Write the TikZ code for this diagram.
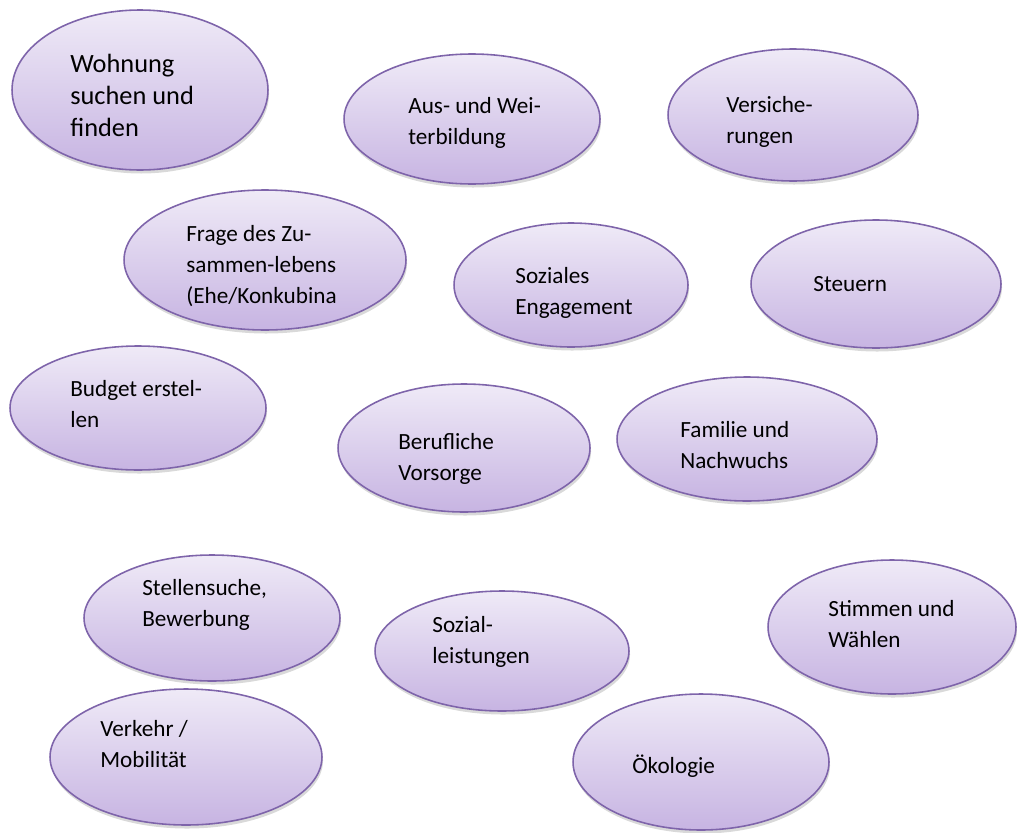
\documentclass[tikz,border=0pt]{standalone}
\usepackage{fontspec}
\setmainfont{Carlito}
\usetikzlibrary{shapes.geometric,shadows}
\definecolor{blobtop}{HTML}{EFEAF7}
\definecolor{blobbot}{HTML}{C7B4E2}
\definecolor{blobline}{HTML}{7E64AA}
\newcommand{\blobfont}{\fontsize{13.2}{17.6}\selectfont}
\newcommand{\bigblobfont}{\fontsize{15}{18.2}\selectfont}

\begin{document}
\begin{tikzpicture}[x=0.02cm, y=-0.02cm,
    blob/.style={ellipse, draw=blobline, line width=0.9pt, inner sep=0pt,
      top color=blobtop, bottom color=blobbot,
      drop shadow={shadow xshift=0.6pt, shadow yshift=-2pt, opacity=0.3}},
    words/.style={anchor=base west, align=left, inner sep=0pt, font=\blobfont}]
  \useasboundingbox (0,0) rectangle (1017,832);

  % the bubbles
  \node[blob, minimum width=5.12cm, minimum height=3.2cm]  (wohnung)  at (140,90) {};
  \node[blob, minimum width=5.12cm, minimum height=2.6cm]  (bildung)  at (472,119) {};
  \node[blob, minimum width=5.0cm,  minimum height=2.64cm] (versich)  at (793,115) {};
  \node[blob, minimum width=5.64cm, minimum height=2.8cm]  (frage)    at (265,260) {};
  \node[blob, minimum width=4.68cm, minimum height=2.48cm] (sozial)   at (571,285) {};
  \node[blob, minimum width=5.0cm,  minimum height=2.56cm] (steuern)  at (876,284) {};
  \node[blob, minimum width=5.12cm, minimum height=2.48cm] (budget)   at (138,408) {};
  \node[blob, minimum width=5.04cm, minimum height=2.56cm] (vorsorge) at (464,448) {};
  \node[blob, minimum width=5.2cm,  minimum height=2.48cm] (familie)  at (747,439) {};
  \node[blob, minimum width=5.12cm, minimum height=2.52cm] (stellen)  at (212,618) {};
  \node[blob, minimum width=5.08cm, minimum height=2.4cm]  (leistung) at (502,651) {};
  \node[blob, minimum width=4.96cm, minimum height=2.68cm] (stimmen)  at (892,627) {};
  \node[blob, minimum width=5.44cm, minimum height=2.72cm] (verkehr)  at (186,757) {};
  \node[blob, minimum width=5.12cm, minimum height=2.72cm] (oeko)     at (701,762) {};

  % the texts (placed by the baseline of their last line)
  \node[words, font=\bigblobfont] (wohnung-t) at (70,136) {Wohnung\\suchen und\\finden};
  \node[words] (bildung-t)  at (408,144) {Aus- und Wei-\\terbildung};
  \node[words] (versich-t)  at (726,143) {Versiche-\\rungen};
  \node[words] (frage-t)    at (186,303) {Frage des Zu-\\sammen-lebens\\(Ehe/Konkubina};
  \node[words] (sozial-t)   at (515,314) {Soziales\\Engagement};
  \node[words] (steuern-t)  at (813,291) {Steuern};
  \node[words] (budget-t)   at (70,427)  {Budget erstel-\\len};
  \node[words] (vorsorge-t) at (398,480) {Berufliche\\Vorsorge};
  \node[words] (familie-t)  at (680,468) {Familie und\\Nachwuchs};
  \node[words] (stellen-t)  at (142,626) {Stellensuche,\\Bewerbung};
  \node[words] (leistung-t) at (432,663) {Sozial-\\leistungen};
  \node[words] (stimmen-t)  at (828,647) {Stimmen und\\Wählen};
  \node[words] (verkehr-t)  at (100,767) {Verkehr /\\Mobilität};
  \node[words] (oeko-t)     at (632,773) {Ökologie};
\end{tikzpicture}
\end{document}
